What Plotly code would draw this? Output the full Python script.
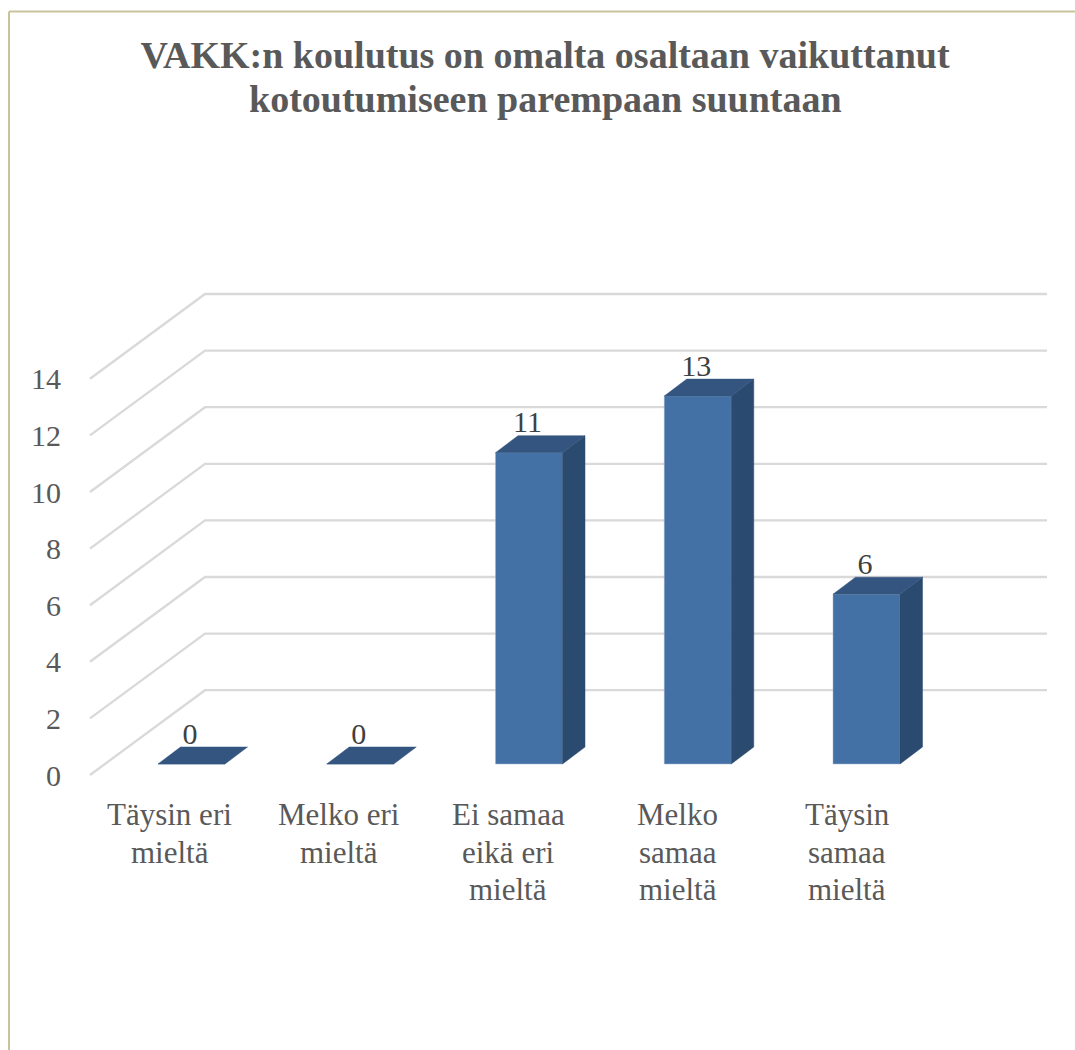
import plotly.graph_objects as go

categories = ["Täysin eri<br>mieltä", "Melko eri<br>mieltä", "Ei samaa<br>eikä eri<br>mieltä", "Melko<br>samaa<br>mieltä", "Täysin<br>samaa<br>mieltä"]
values = [0, 0, 11, 13, 6]
y_ticks = [0, 2, 4, 6, 8, 10, 12, 14]
title_lines = ["VAKK:n koulutus on omalta osaltaan vaikuttanut", "kotoutumiseen parempaan suuntaan"]

W, H = 1075, 1050
L, R, T, B = 90, 1047, 294, 775     # wall corners in pixels
PL, PR, PT, PB = 80, 1055, 285, 785  # plot area in pixels
CAT = 168.75
UNIT = 28.3
X0 = 169  # pixel position of first category
LABEL_X0, LABEL_STEP = 169.5, 169.4  # category label placement in pixels
to_x = lambda px: px / CAT
to_y = lambda px: px / UNIT
fx = lambda px: (px - PL) / (PR - PL)
fy = lambda px: (PB - px) / (PB - PT)

FONT = "Liberation Serif"
TEXT = "#595959"
GRID = "#d9d9d9"
FRONT, TOP, SIDE = "#4371a6", "#33557f", "#2b4a6f"
EDGE = "#9fb5d0"

wall_dx, wall_dy = to_x(115), to_y(84.8)
bar_shift, bar_w = to_x(22.5), to_x(67)
bar_base = to_y(11)
depth_dx, depth_dy = to_x(22.5), to_y(17)
xmin = -(X0 - L) / CAT
xmax = xmin + (R - L) / CAT

fig = go.Figure()

# walls: gridlines behind the bars
shapes = []
for v in y_ticks:
    top = v + wall_dy
    shapes.append(dict(type="path", layer="below", xref="x", yref="y",
                       path=f"M {xmin} {v} L {xmin + wall_dx} {top} L {xmax} {top}",
                       line=dict(color=GRID, width=2.3)))

xs = list(range(len(values)))
centres = [i + bar_shift for i in xs]

# front faces
fig.add_trace(go.Bar(x=centres, y=values, base=bar_base, width=bar_w,
                     marker=dict(color=FRONT, line=dict(color=EDGE, width=0.5)), showlegend=False))

for c, v in zip(centres, values):
    l, r = c - bar_w / 2, c + bar_w / 2
    b, t = bar_base, bar_base + v
    if v > 0:
        fig.add_trace(go.Scatter(x=[r, r + depth_dx, r + depth_dx, r, r], y=[b, b + depth_dy, t + depth_dy, t, b],
                                 mode="lines", fill="toself", fillcolor=SIDE,
                                 line=dict(color=SIDE, width=0.5), hoverinfo="skip", showlegend=False))
    fig.add_trace(go.Scatter(x=[l, l + depth_dx, r + depth_dx, r, l], y=[t, t + depth_dy, t + depth_dy, t, t],
                             mode="lines", fill="toself", fillcolor=TOP,
                             line=dict(color=TOP, width=0.5), hoverinfo="skip", showlegend=False))

# data labels
fig.add_trace(go.Scatter(x=[c - to_x(1.5) for c in centres], y=[bar_base + v + to_y(28) for v in values],
                         mode="text", text=[str(v) for v in values], textposition="middle center",
                         textfont=dict(family=FONT, size=30, color="#404040"), cliponaxis=False,
                         hoverinfo="skip", showlegend=False))

# category labels: one annotation per line to hold the reference's tight leading
annotations = []
for i, cat in enumerate(categories):
    for j, part in enumerate(cat.split("<br>")):
        annotations.append(dict(x=fx(LABEL_X0 + LABEL_STEP * i), y=fy(B), xref="paper", yref="paper", text=part,
                                showarrow=False, xanchor="center", yanchor="middle", yshift=-(39.5 + 37.5 * j),
                                font=dict(family=FONT, size=31, color=TEXT)))
annotations.append(dict(x=fx(545), y=fy(99), xref="paper", yref="paper", text=title_lines[1],
                        showarrow=False, xanchor="center", yanchor="middle",
                        font=dict(family=FONT, size=38, color=TEXT, weight="bold")))

fig.update_layout(
    width=W, height=H, autosize=False,
    margin=dict(l=PL, r=W - PR, t=PT, b=H - PB, pad=0),
    paper_bgcolor="white", plot_bgcolor="rgba(0,0,0,0)", showlegend=False,
    title=dict(text=title_lines[0], x=545 / W, xanchor="center", y=1 - 55 / H, yanchor="middle",
               font=dict(family=FONT, size=38, color=TEXT, weight="bold")),
    xaxis=dict(range=[(PL - X0) / CAT, (PR - X0) / CAT], showgrid=False, zeroline=False, showline=False,
               showticklabels=False, ticks=""),
    yaxis=dict(range=[(B - PB) / UNIT, (B - PT) / UNIT], tickvals=y_ticks, showgrid=False, zeroline=False,
               showline=False, ticks="outside", ticklen=12, tickcolor="rgba(0,0,0,0)",
               tickfont=dict(family=FONT, size=30, color=TEXT)),
    annotations=annotations,
    shapes=shapes + [
        dict(type="line", xref="paper", yref="paper", x0=fx(9), x1=fx(W), y0=fy(11.5), y1=fy(11.5),
             line=dict(color="#c9c39b", width=2)),
        dict(type="line", xref="paper", yref="paper", x0=fx(9), x1=fx(9), y0=fy(11.5), y1=fy(H),
             line=dict(color="#c9c39b", width=2)),
    ],
)
fig.write_html("out.html", config={"displayModeBar": False}, post_script="document.body.style.margin='0';")
